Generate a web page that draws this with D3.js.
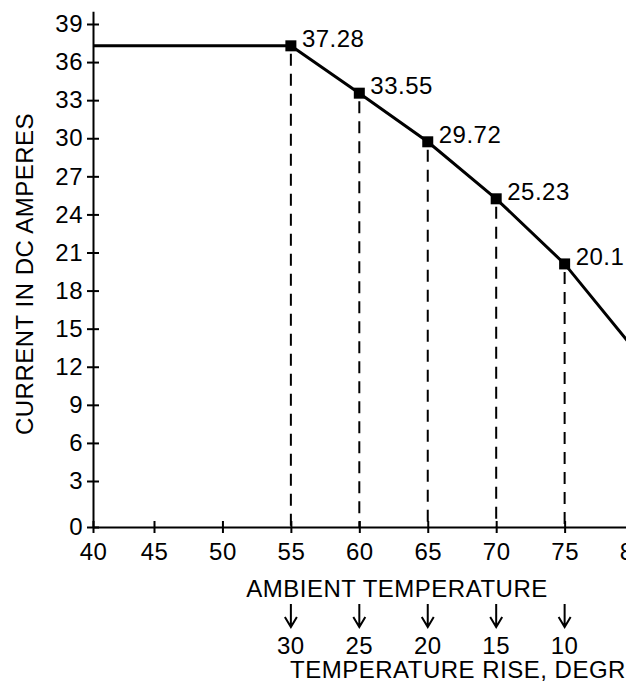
<!DOCTYPE html>
<html>
<head>
<meta charset="utf-8">
<script src="https://cdn.jsdelivr.net/npm/d3@7"></script>
<style>
  body { margin: 0; background: #fff; }
  #chart svg { display: block; }
</style>
</head>
<body>
<div id="chart"></div>
<script>
// Derating curve: current vs ambient temperature
const ambientTemperatures = [40, 55, 60, 65, 70, 75, 80];
const currentAmperes = [37.28, 37.28, 33.55, 29.72, 25.23, 20.1, 13.5];
// temperature rise shown under each rated point (none under 40)
const temperatureRises = [null, 30, 25, 20, 15, 10, 5];

const xTickValues = [40, 45, 50, 55, 60, 65, 70, 75, 80];
const yTickValues = [0, 3, 6, 9, 12, 15, 18, 21, 24, 27, 30, 33, 36, 39];

const xTitle = 'AMBIENT TEMPERATURE';
const riseTitle = 'TEMPERATURE RISE, DEGREES C';
const yTitle = 'CURRENT IN DC AMPERES';

/**
 * Draws the derating chart.
 */
class DeratingChart {

  constructor(selector) {
    this.element = d3.select('#' + selector);
    this.initialize();
    this.update();
  }

  /**
   * Sets the default values.
   */
  initialize() {
    this.width = 626;
    this.height = 687;
    this.fontFamily = '"Liberation Sans", Arial, sans-serif';
    this.fontSize = 24;
    this.ink = '#000';

    this.datasets = ambientTemperatures.map((t, i) => ({
      ambient: t,
      current: currentAmperes[i],
      rise: temperatureRises[i]
    }));
  }

  update() {
    this.createSVG();
    this.createScales();
    this.renderAxis();
    this.renderDropLines();
    this.renderLine();
    this.renderMarkers();
    this.renderLabels();
    this.renderTitles();
  }

  createSVG() {
    this.element.selectAll('svg').remove();
    this.svg = this.element
      .append('svg')
      .attr('width', this.width)
      .attr('height', this.height)
      .attr('font-family', this.fontFamily)
      .attr('font-size', this.fontSize)
      .attr('letter-spacing', 0.5);
  }

  /**
   * The first interval of each axis is drawn wider/narrower than the rest,
   * so both scales are piecewise linear.
   */
  createScales() {
    this.xChart = d3.scaleLinear()
      .domain([40, 45, 85])
      .range([93, 154, 701.5]);

    this.yChart = d3.scaleLinear()
      .domain([0, 3, 40])
      .range([527, 481, 11.3]);
  }

  renderAxis() {
    let xAxis = this.svg.append('g')
      .attr('transform', `translate(0,${this.yChart(0)})`)
      .call(d3.axisBottom(this.xChart)
        .tickValues(xTickValues)
        .tickSizeInner(6)
        .tickSizeOuter(0)
        .tickPadding(10));

    xAxis.selectAll('.tick line').attr('y1', -6).attr('y2', 6);

    let yAxis = this.svg.append('g')
      .attr('transform', `translate(${this.xChart(40)},0)`)
      .call(d3.axisLeft(this.yChart)
        .tickValues(yTickValues)
        .tickSizeInner(6)
        .tickSizeOuter(0)
        .tickPadding(4));

    yAxis.selectAll('.tick line').attr('x1', 6).attr('x2', -6);

    [xAxis, yAxis].forEach(axis => {
      axis.attr('font-family', this.fontFamily).attr('font-size', this.fontSize);
      axis.selectAll('path, line').attr('stroke', this.ink).attr('stroke-width', 2);
      axis.selectAll('text').attr('fill', this.ink);
    });
  }

  renderDropLines() {
    let rated = this.datasets.filter(d => d.rise !== null);
    this.svg.append('g')
      .selectAll('line')
      .data(rated)
      .enter()
      .append('line')
      .attr('x1', d => this.xChart(d.ambient))
      .attr('x2', d => this.xChart(d.ambient))
      .attr('y1', d => this.yChart(d.current) + 8)
      .attr('y2', this.yChart(0))
      .attr('stroke', this.ink)
      .attr('stroke-width', 2)
      .attr('stroke-dasharray', '12,8');
  }

  renderLine() {
    let line = d3.line()
      .x(d => this.xChart(d.ambient))
      .y(d => this.yChart(d.current));

    this.svg.append('path')
      .datum(this.datasets)
      .attr('d', line)
      .attr('fill', 'none')
      .attr('stroke', this.ink)
      .attr('stroke-width', 3);
  }

  renderMarkers() {
    let size = 11;
    this.svg.append('g')
      .selectAll('rect')
      .data(this.datasets.filter(d => d.rise !== null))
      .enter()
      .append('rect')
      .attr('x', d => this.xChart(d.ambient) - size / 2)
      .attr('y', d => this.yChart(d.current) - size / 2)
      .attr('width', size)
      .attr('height', size)
      .attr('fill', this.ink);
  }

  renderLabels() {
    this.svg.append('g')
      .selectAll('text')
      .data(this.datasets.filter(d => d.rise !== null))
      .enter()
      .append('text')
      .attr('x', d => this.xChart(d.ambient) + 11)
      .attr('y', d => this.yChart(d.current) + 1)
      .attr('fill', this.ink)
      .text(d => d.current);
  }

  /**
   * Axis titles plus the arrows down to the temperature rise row.
   */
  renderTitles() {
    let rated = this.datasets.filter(d => d.rise !== null);

    this.svg.append('text')
      .attr('x', 397)
      .attr('y', 597)
      .attr('text-anchor', 'middle')
      .attr('fill', this.ink)
      .text(xTitle);

    this.svg.append('g')
      .selectAll('path')
      .data(rated)
      .enter()
      .append('path')
      .attr('d', d => {
        let x = this.xChart(d.ambient);
        return `M${x},604V627M${x - 6},617L${x},627L${x + 6},617`;
      })
      .attr('fill', 'none')
      .attr('stroke', this.ink)
      .attr('stroke-width', 2);

    this.svg.append('g')
      .selectAll('text')
      .data(rated)
      .enter()
      .append('text')
      .attr('x', d => this.xChart(d.ambient))
      .attr('y', 654)
      .attr('text-anchor', 'middle')
      .attr('fill', this.ink)
      .text(d => d.rise);

    this.svg.append('text')
      .attr('x', 290)
      .attr('y', 678)
      .attr('fill', this.ink)
      .text(riseTitle);

    this.svg.append('text')
      .attr('transform', 'translate(33,274) rotate(-90)')
      .attr('text-anchor', 'middle')
      .attr('fill', this.ink)
      .text(yTitle);
  }
}

new DeratingChart('chart');
</script>
</body>
</html>
